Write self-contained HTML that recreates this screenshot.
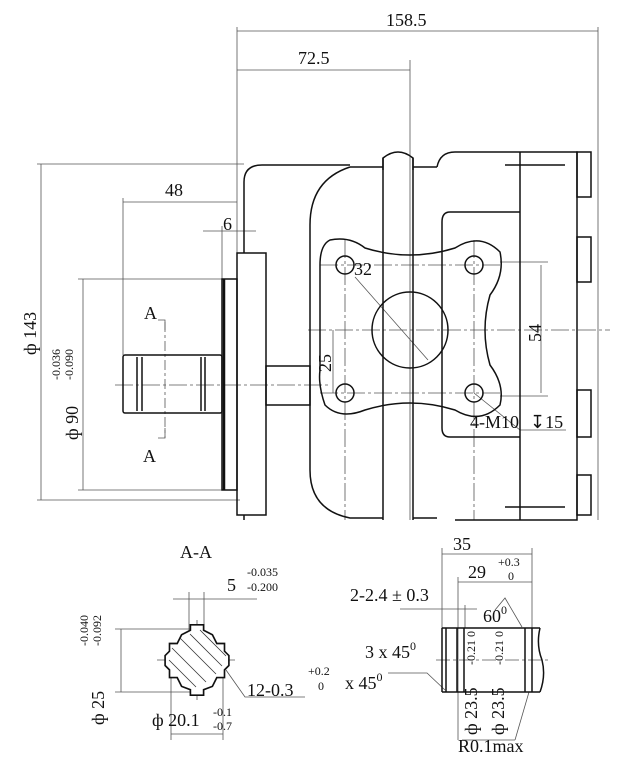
<!DOCTYPE html>
<html><head><meta charset="utf-8"><style>
html,body{margin:0;padding:0;background:#fff;width:624px;height:759px;overflow:hidden}
svg text{font-family:"Liberation Serif",serif;fill:#111}
</style></head><body>
<svg width="624" height="759" viewBox="0 0 624 759" xmlns="http://www.w3.org/2000/svg">
<g fill="none" stroke="#555" stroke-width="0.8">
<line x1="237" y1="27" x2="237" y2="253"/>
<line x1="598" y1="27" x2="598" y2="520"/>
<line x1="237" y1="31" x2="598" y2="31"/>
<line x1="410" y1="60" x2="410" y2="520"/>
<line x1="237" y1="70" x2="410" y2="70"/>
<line x1="37" y1="164" x2="244" y2="164"/>
<line x1="37" y1="500" x2="240" y2="500"/>
<line x1="41" y1="164" x2="41" y2="500"/>
<line x1="78" y1="279" x2="222" y2="279"/>
<line x1="78" y1="490" x2="222" y2="490"/>
<line x1="83" y1="279" x2="83" y2="490"/>
<line x1="123" y1="198" x2="123" y2="355"/>
<line x1="123" y1="202" x2="237" y2="202"/>
<line x1="203" y1="231" x2="256" y2="231"/>
<line x1="222" y1="226" x2="222" y2="279"/>
<line x1="333" y1="330" x2="333" y2="393"/>
<line x1="541" y1="265" x2="541" y2="393"/>
<line x1="500" y1="262" x2="548" y2="262"/>
<line x1="500" y1="396" x2="548" y2="396"/>
<line x1="355" y1="277" x2="428" y2="360"/>
<line x1="474" y1="393" x2="520" y2="430"/>
<line x1="520" y1="430" x2="566" y2="430"/>
<line x1="115" y1="385" x2="330" y2="385" stroke-dasharray="18,3,3,3"/>
<line x1="308" y1="330" x2="610" y2="330" stroke-dasharray="18,3,3,3"/>
<line x1="345" y1="240" x2="345" y2="520" stroke-dasharray="18,3,3,3"/>
<line x1="474" y1="240" x2="474" y2="520" stroke-dasharray="18,3,3,3"/>
<line x1="320" y1="265" x2="502" y2="265" stroke-dasharray="18,3,3,3"/>
<line x1="320" y1="393" x2="502" y2="393" stroke-dasharray="18,3,3,3"/>
<line x1="165" y1="322" x2="165" y2="438" stroke-dasharray="10,3,3,3"/>
<polyline points="158,320 165,320 165,330"/>
<polyline points="158,438 165,438 165,428"/>
<line x1="115" y1="629" x2="200" y2="629"/>
<line x1="115" y1="692" x2="200" y2="692"/>
<line x1="121" y1="629" x2="121" y2="692"/>
<line x1="171" y1="675" x2="171" y2="740"/>
<line x1="223" y1="675" x2="223" y2="740"/>
<line x1="171" y1="734" x2="223" y2="734"/>
<line x1="173" y1="599" x2="257" y2="599"/>
<line x1="189" y1="592" x2="189" y2="632"/>
<line x1="204" y1="592" x2="204" y2="632"/>
<line x1="157" y1="660" x2="235" y2="660"/>
<line x1="197" y1="620" x2="197" y2="700"/>
<polyline points="226,670 245,697 305,697"/>
<line x1="442" y1="548" x2="442" y2="628"/>
<line x1="532" y1="548" x2="532" y2="628"/>
<line x1="442" y1="554" x2="532" y2="554"/>
<line x1="458" y1="577" x2="458" y2="740"/>
<line x1="458" y1="582" x2="532" y2="582"/>
<line x1="400" y1="609" x2="477" y2="609"/>
<line x1="465" y1="605" x2="465" y2="628"/>
<polyline points="495,610 505,598 522,627"/>
<polyline points="388,673 427,673 445,690"/>
<line x1="436" y1="660" x2="548" y2="660" stroke-dasharray="14,3,3,3"/>
<line x1="529" y1="692" x2="515" y2="740"/>
<line x1="462" y1="740" x2="515" y2="740"/>
</g>
<g fill="none" stroke="#111" stroke-width="1.5">
<rect x="123" y="355" width="99" height="58" rx="2"/>
<line x1="137" y1="357" x2="137" y2="411"/>
<line x1="142" y1="357" x2="142" y2="411"/>
<line x1="201" y1="357" x2="201" y2="411"/>
<line x1="205" y1="357" x2="205" y2="411"/>
<rect x="222" y="279" width="15" height="211"/>
<line x1="224" y1="279" x2="224" y2="490" stroke-width="2.5"/>
<rect x="237" y="253" width="29" height="262"/>
<rect x="266" y="366" width="44" height="39"/>
<path d="M244 253 V182 Q244 165 262 165 H350"/>
<path d="M244 515 V520"/>
<path d="M350 167 Q310 180 310 225 V470 Q310 510 350 518 H383"/>
<path d="M383 170 V158 Q398 146 413 158 V170"/>
<line x1="383" y1="158" x2="383" y2="520"/>
<line x1="413" y1="158" x2="413" y2="520"/>
<line x1="350" y1="167" x2="383" y2="167"/>
<line x1="413" y1="167" x2="437" y2="167"/>
<path d="M413 518 H437"/>
<path d="M437 167 Q440 152 455 152 H577 V520 H455"/>
<line x1="520" y1="152" x2="520" y2="520"/>
<path d="M520 212 H450 Q442 212 442 222 V428 Q442 437 450 437 H520"/>
<line x1="505" y1="165" x2="565" y2="165"/>
<line x1="505" y1="507" x2="565" y2="507"/>
<rect x="577" y="152" width="14" height="45"/>
<rect x="577" y="237" width="14" height="45"/>
<rect x="577" y="390" width="14" height="47"/>
<rect x="577" y="475" width="14" height="40"/>
<path d="M330 240 Q350 236 365 248 Q410 262 455 248 Q480 232 500 252 Q505 275 490 295 Q480 330 490 365 Q505 385 500 405 Q480 425 455 410 Q410 396 365 410 Q340 420 325 405 Q318 385 320 370 V265 Q320 245 330 240 Z"/>
<circle cx="345" cy="265" r="9"/><circle cx="474" cy="265" r="9"/>
<circle cx="345" cy="393" r="9"/><circle cx="474" cy="393" r="9"/>
<circle cx="410" cy="330" r="38"/>
<g transform="translate(197,660) scale(1.1) translate(-164,-660)">
<path d="M158 628 H170 V633 L178 637 L182 645 H189 V652 L193 656 L193 665 L189 669 V676 H182 L178 684 L170 687 V692 H158 V687 L150 684 L146 676 H139 V669 L135 665 L135 656 L139 652 V645 H146 L150 637 L158 633 Z" fill="#fff"/>
</g>
<path d="M442 628 H540 M442 692 H540 M442 628 V692"/>
<path d="M540 628 Q536 645 542 660 Q546 676 540 692"/>
<line x1="446" y1="628" x2="446" y2="692"/>
<line x1="457" y1="628" x2="457" y2="692"/>
<line x1="464" y1="628" x2="464" y2="692"/>
<line x1="525" y1="628" x2="525" y2="692"/>
<line x1="532" y1="628" x2="532" y2="692"/>
</g>
<g stroke="#333" stroke-width="0.8" fill="none">
<line x1="180" y1="638" x2="216" y2="674"/><line x1="172" y1="648" x2="206" y2="682"/>
<line x1="190" y1="634" x2="222" y2="666"/><line x1="169" y1="660" x2="196" y2="687"/>
<line x1="200" y1="630" x2="226" y2="656"/>
</g>
<g font-size="18">
<text x="386" y="26">158.5</text>
<text x="298" y="64">72.5</text>
<text x="165" y="196">48</text>
<text x="223" y="230">6</text>
<text x="354" y="275">32</text>
<text x="470" y="428">4-M10</text><text x="530" y="428">↧15</text>
<text x="144" y="319">A</text>
<text x="143" y="462">A</text>
<text x="180" y="558">A-A</text>
<text x="227" y="591">5</text>
<text x="453" y="550">35</text>
<text x="468" y="578">29</text>
<text x="350" y="601">2-2.4 ± 0.3</text>
<text x="483" y="622">60<tspan font-size="12" dy="-8">0</tspan></text>
<text x="365" y="658">3 x 45<tspan font-size="12" dy="-8">0</tspan></text>
<text x="247" y="696">12-0.3</text>
<text x="345" y="689">x 45<tspan font-size="12" dy="-8">0</tspan></text>
<text x="152" y="726">ф 20.1</text>
<text x="458" y="752">R0.1max</text>
<text transform="translate(36,355) rotate(-90)">ф 143</text>
<text transform="translate(78,440) rotate(-90)">ф 90</text>
<text transform="translate(104,725) rotate(-90)">ф 25</text>
<text transform="translate(541,342) rotate(-90)">54</text>
<text transform="translate(331,372) rotate(-90)">25</text>
<text transform="translate(477,735) rotate(-90)">ф 23.5</text>
<text transform="translate(504,735) rotate(-90)">ф 23.5</text>
</g>
<g font-size="12">
<text x="247" y="576">-0.035</text><text x="247" y="591">-0.200</text>
<text x="498" y="566">+0.3</text><text x="508" y="580">0</text>
<text x="308" y="675">+0.2</text><text x="318" y="690">0</text>
<text x="213" y="716">-0.1</text><text x="213" y="730">-0.7</text>
<text transform="translate(60,380) rotate(-90)">-0.036</text>
<text transform="translate(73,380) rotate(-90)">-0.090</text>
<text transform="translate(88,646) rotate(-90)">-0.040</text>
<text transform="translate(101,646) rotate(-90)">-0.092</text>
<text transform="translate(475,665) rotate(-90)">-0.21 0</text>
<text transform="translate(503,665) rotate(-90)">-0.21 0</text>
</g>
</svg>
</body></html>
